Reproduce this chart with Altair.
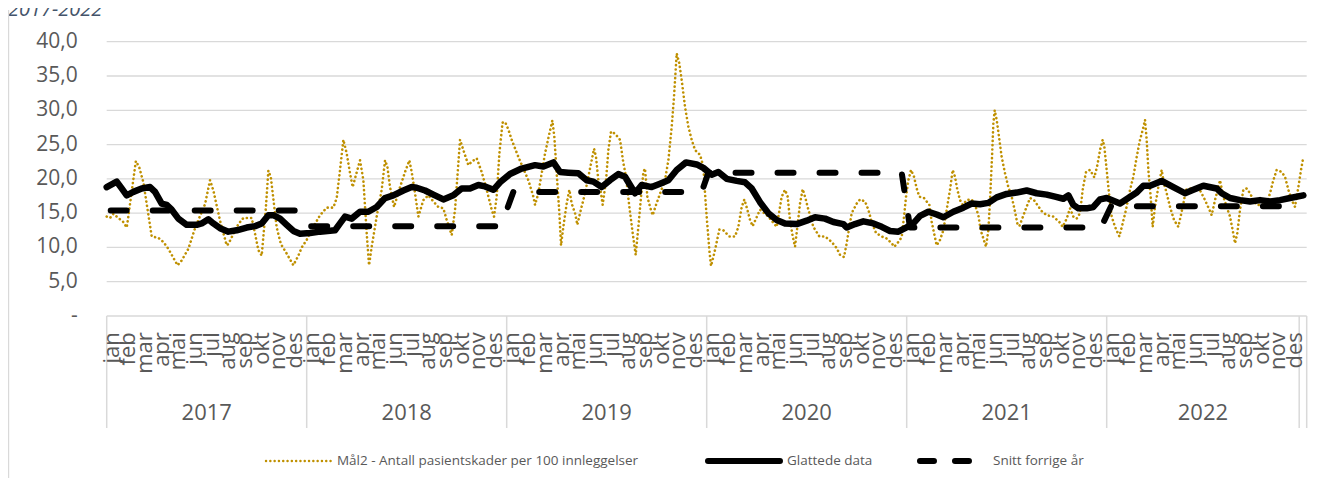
import altair as alt
import pandas as pd

# time axis: months since jan 2017 (fractional), values per 100 admissions
raw_t = [0.0, 0.2, 0.4, 1.0, 1.2, 1.28, 1.75, 1.95, 2.2, 2.7, 3.1, 3.4, 3.7, 4.25, 4.5, 4.9, 5.3, 5.6, 5.9,
         6.2, 6.4, 6.8, 7.2, 7.3, 7.9, 8.2, 8.7, 8.9, 9.1, 9.3, 9.55, 9.7, 9.85, 10.2, 10.45, 10.8, 11.2,
         11.5, 11.7, 12.0,
         12.4, 12.8, 13.2, 13.6, 13.8, 14.0, 14.2, 14.4, 14.6, 14.76, 14.96, 15.2, 15.4, 15.6, 15.74, 15.9,
         16.2, 16.5, 16.7, 16.84, 17.0, 17.24, 17.6, 17.9, 18.16, 18.3, 18.5, 18.7, 19.0, 19.3, 19.6, 19.9,
         20.2, 20.4, 20.7, 20.9, 21.04, 21.2, 21.4, 21.7, 21.9, 22.2, 22.5, 22.8, 23.1, 23.24, 23.4, 23.56,
         23.75, 23.9,
         24.1, 24.3, 24.7, 25.0, 25.3, 25.6, 25.7, 25.9, 26.1, 26.3, 26.56, 26.74, 26.86, 27.0, 27.16, 27.26,
         27.4, 27.6, 27.76, 27.9, 28.1, 28.24, 28.4, 28.7, 29.0, 29.24, 29.36, 29.5, 29.66, 29.76, 29.96,
         30.1, 30.26, 30.5, 30.8, 31.0, 31.16, 31.36, 31.56, 31.74, 31.9, 32.06, 32.2, 32.3, 32.44, 32.6,
         32.76, 32.96, 33.24, 33.5, 33.7, 33.9, 34.04, 34.2, 34.36, 34.5, 34.7, 34.9, 35.1, 35.3, 35.6,
         35.8, 35.9,
         36.0, 36.16, 36.26, 36.4, 36.56, 36.76, 37.0, 37.36, 37.7, 37.9, 38.1, 38.26, 38.44, 38.6, 38.76,
         38.96, 39.2, 39.7, 40.2, 40.5, 40.7, 40.86, 41.0, 41.16, 41.3, 41.44, 41.6, 41.76, 41.9, 42.1,
         42.4, 42.76, 43.1, 43.5, 43.8, 44.0, 44.24, 44.4, 44.56, 44.7, 45.0, 45.2, 45.5, 45.7, 45.9,
         46.16, 46.5, 46.8, 47.1, 47.26, 47.5, 47.7, 47.84, 47.96,
         48.1, 48.26, 48.44, 48.6, 48.76, 49.04, 49.36, 49.5, 49.64, 49.8, 50.0, 50.2, 50.4, 50.6, 50.76,
         50.9, 51.04, 51.2, 51.36, 51.6, 51.9, 52.1, 52.3, 52.44, 52.6, 52.76, 52.9, 53.0, 53.12, 53.2,
         53.28, 53.4, 53.54, 53.7, 53.9, 54.1, 54.3, 54.5, 54.64, 54.76, 54.9, 55.16, 55.4, 55.64, 55.84,
         56.1, 56.4, 56.8, 57.16, 57.36, 57.6, 57.8, 58.0, 58.2, 58.4, 58.56, 58.76, 59.0, 59.26, 59.44,
         59.6, 59.76, 59.86,
         60.0, 60.16, 60.3, 60.5, 60.76, 60.96, 61.16, 61.4, 61.6, 61.8, 62.0, 62.16, 62.3, 62.4, 62.5,
         62.64, 62.76, 62.9, 63.1, 63.3, 63.44, 63.6, 63.8, 64.04, 64.3, 64.56, 64.76, 65.0, 65.2, 65.5,
         65.9, 66.16, 66.3, 66.5, 66.8, 67.0, 67.2, 67.4, 67.56, 67.7, 67.84, 68.0, 68.2, 68.4, 68.6, 68.8,
         69.0, 69.3, 69.6, 69.8, 70.0, 70.2, 70.5, 70.7, 70.9, 71.1, 71.3, 71.5, 71.66, 71.8]
raw_v = [14.5, 14.3, 14.9, 13.7, 12.9, 14.2, 22.6, 21.7, 19.5, 11.6, 11.4, 10.8, 9.8, 7.4, 8.1, 9.8, 12.8, 14.6, 16.3,
         19.8, 18.3, 13.9, 10.3, 10.5, 13.4, 14.3, 14.3, 12.0, 9.6, 8.8, 15.8, 21.2, 20.2, 12.9, 10.5, 9.1, 7.4,
         8.8, 10.0, 11.1,
         13.0, 14.7, 15.8, 15.8, 17.2, 21.3, 25.7, 23.7, 20.8, 18.8, 20.6, 22.7, 19.8, 12.1, 7.4, 10.1,
         14.5, 18.4, 22.7, 21.8, 18.8, 15.9, 18.8, 21.0, 22.7, 21.0, 17.9, 14.5, 16.9, 17.6, 16.7, 15.9,
         15.7, 14.0, 11.8, 15.5, 20.3, 25.7, 24.2, 22.0, 22.5, 23.0, 21.0, 18.4, 15.5, 14.5, 17.4, 23.7,
         28.2, 28.3,
         27.2, 25.7, 23.2, 21.5, 19.8, 17.4, 16.2, 17.9, 20.8, 23.7, 26.6, 28.5, 26.1, 20.8, 15.0, 10.3,
         13.0, 16.4, 18.4, 16.4, 15.0, 13.3, 15.0, 17.9, 21.5, 24.4, 23.2, 19.8, 17.9, 16.2, 19.8,
         24.2, 26.9, 26.6, 25.7, 22.3, 20.3, 15.9, 12.1, 8.9, 13.0, 17.4, 21.0, 21.5, 17.4, 15.9,
         14.7, 16.2, 18.1, 19.8, 22.7, 27.6, 32.0, 38.3, 36.8, 34.4, 30.5, 27.6, 25.7, 24.2, 23.5,
         21.8, 17.9,
         14.5, 9.6, 7.3, 8.6, 10.3, 12.6, 12.5, 11.6, 11.6, 13.0, 15.9, 17.0, 15.5, 14.0, 13.1,
         14.2, 15.5, 14.5, 13.0, 17.4, 18.4, 17.4, 14.0, 11.6, 10.1, 13.0, 16.4, 18.5, 17.4, 15.5,
         13.0, 11.6, 11.6, 10.8, 9.9, 8.9, 8.6, 10.6, 13.0, 15.0, 16.4, 17.0, 16.7, 15.5, 13.7,
         12.1, 11.6, 11.3, 10.6, 10.1, 10.8, 11.5, 14.5, 17.4,
         19.8, 21.3, 20.3, 18.6, 17.4, 17.2, 16.2, 13.7, 12.1, 10.3, 11.1, 12.5, 15.5, 18.4, 21.3,
         20.3, 18.4, 16.9, 16.2, 16.9, 17.0, 16.2, 14.7, 12.5, 11.3, 10.1, 12.5, 16.9, 23.2, 28.1,
         30.0, 28.6, 26.1, 23.2, 20.8, 18.8, 17.4, 15.2, 13.5, 13.1, 14.0, 15.7, 17.2, 16.9, 16.2,
         15.3, 14.7, 14.5, 13.7, 13.0, 14.2, 15.7, 14.5, 14.2, 15.0, 18.4, 21.0, 21.3, 20.2, 22.0,
         24.2, 25.7, 24.7,
         21.3, 17.4, 14.5, 13.0, 11.6, 13.5, 15.5, 18.4, 20.3, 23.2, 25.7, 27.1, 28.6, 25.7, 21.3,
         17.4, 13.0, 15.9, 18.8, 21.3, 19.3, 17.9, 15.9, 14.0, 13.0, 15.9, 18.4, 18.6, 18.6, 18.8,
         16.9, 15.5, 14.7, 16.9, 19.8, 17.4, 15.9, 14.5, 12.5, 10.6, 12.1, 15.5, 18.4, 18.6, 17.9, 16.9,
         16.2, 16.2, 16.4, 17.9, 19.8, 21.3, 21.0, 20.3, 18.4, 16.9, 15.9, 18.8, 21.3, 23.2]

smooth_t = [0.0, 0.3, 0.6, 0.9, 1.2, 1.6, 2.1, 2.6, 2.9, 3.3, 3.6, 3.9, 4.3, 4.8, 5.4, 5.7, 6.1, 6.4, 6.8,
            7.3, 7.8, 8.4, 8.9, 9.3, 9.7, 10.0, 10.4, 10.8, 11.2, 11.6,
            12.2, 12.8, 13.7, 14.0, 14.3, 14.7, 15.2, 15.7, 16.2, 16.7, 17.2, 17.8, 18.3, 18.6, 19.1, 19.6,
            20.2, 20.8, 21.3, 21.8, 22.3, 22.7, 23.2, 23.6,
            24.2, 24.9, 25.7, 26.2, 26.8, 27.2, 27.7, 28.3, 28.8, 29.2, 29.7, 30.2, 30.7, 31.1, 31.4, 31.7,
            32.1, 32.7, 33.2, 33.7, 34.2, 34.76, 35.4, 35.8,
            36.3, 36.7, 37.2, 37.8, 38.3, 38.7, 39.2, 39.7, 40.2, 40.7, 41.4, 42.0, 42.5, 43.1, 43.6, 44.2,
            44.4, 44.9, 45.4, 46.0, 46.5, 47.0, 47.5, 47.9,
            48.4, 48.8, 49.3, 49.8, 50.2, 50.8, 51.4, 51.9, 52.4, 52.9, 53.4, 54.0, 54.6, 55.2, 55.8, 56.4,
            56.9, 57.4, 57.7, 58.0, 58.3, 58.8, 59.2, 59.6,
            60.0, 60.8, 61.3, 61.8, 62.2, 62.6, 63.3, 64.0, 64.7, 65.2, 65.8, 66.6, 66.9, 67.4, 68.0, 68.6,
            69.2, 69.8, 70.4, 71.0, 71.8]
smooth_v = [18.8, 19.2, 19.6, 18.6, 17.6, 18.1, 18.6, 18.8, 18.1, 16.4, 16.2, 15.5, 14.2, 13.3, 13.3, 13.5, 14.1, 13.5, 12.8,
            12.3, 12.5, 12.9, 13.1, 13.5, 14.7, 14.7, 14.2, 13.3, 12.4, 12.0,
            12.1, 12.3, 12.5, 13.5, 14.5, 14.2, 15.2, 15.2, 15.9, 17.2, 17.6, 18.3, 18.8, 18.7, 18.3, 17.7,
            17.0, 17.6, 18.6, 18.6, 19.1, 18.9, 18.4, 19.5,
            20.7, 21.5, 22.0, 21.8, 22.4, 21.0, 20.9, 20.8, 19.8, 19.6, 18.8, 19.8, 20.7, 20.3, 19.1, 17.9,
            19.1, 18.8, 19.3, 19.8, 21.3, 22.4, 22.1, 21.6,
            20.6, 21.0, 20.0, 19.7, 19.5, 18.6, 16.6, 15.0, 14.0, 13.5, 13.4, 13.9, 14.4, 14.2, 13.7, 13.4,
            12.9, 13.4, 13.8, 13.5, 13.0, 12.4, 12.3, 12.8,
            13.5, 14.6, 15.2, 14.8, 14.4, 15.2, 15.8, 16.4, 16.3, 16.5, 17.3, 17.8, 18.0, 18.3, 17.9, 17.7,
            17.4, 17.1, 17.6, 16.2, 15.7, 15.7, 15.9, 17.0,
            17.2, 16.4, 17.2, 18.0, 19.0, 19.0, 19.7, 18.8, 17.9, 18.4, 19.0, 18.6, 17.9, 17.2, 16.9, 16.7,
            16.9, 16.7, 16.9, 17.2, 17.6]

avg_t = [0.0, 11.75, 12.25, 23.65, 24.4, 35.7, 36.1, 47.7, 48.2, 59.66, 60.26, 71.8]
avg_v = [15.4, 15.4, 13.1, 13.1, 18.1, 18.1, 20.9, 20.9, 12.9, 12.9, 16.0, 16.0]

years = ["2017", "2018", "2019", "2020", "2021", "2022"]
year_start = [0, 12, 24, 36, 48, 60]
year_end = [12, 24, 36, 48, 60, 71.55]
months = ["jan", "feb", "mar", "apr", "mai", "jun", "jul", "aug", "sep", "okt", "nov", "des"]
y_ticks = [0, 5, 10, 15, 20, 25, 30, 35, 40]

legend_labels = ["Mål2 - Antall pasientskader per 100 innleggelser", "Glattede data", "Snitt forrige år"]

GOLD = "#BF9000"
GRID = "#d9d9d9"
TXT = "#595959"
FONT = "Open Sans"

W, H = 1200, 274.3
PL, PT, PR = 98.7, 33.7, 6
PB = 470 - PT - H

xs = alt.Scale(domain=[0, 72], nice=False, zero=False)
ys = alt.Scale(domain=[0, 40], nice=False)

raw_df = pd.DataFrame({"t": raw_t, "v": raw_v})
smooth_df = pd.DataFrame({"t": smooth_t, "v": smooth_v})
avg_df = pd.DataFrame({"t": avg_t, "v": avg_v})


def fmt(v):
    return "-\u00a0\u00a0" if v == 0 else f"{v:.1f}".replace(".", ",")


tick_df = pd.DataFrame({"v": y_ticks, "lab": [fmt(v) for v in y_ticks]})

month_rows = []
for ys0 in year_start:
    for m, name in enumerate(months):
        month_rows.append({"t": ys0 + m + 0.3, "label": name})
month_df = pd.DataFrame(month_rows)

year_df = pd.DataFrame({"year": years, "c": [(a + b) / 2 for a, b in zip(year_start, year_end)]})
sep_df = pd.DataFrame({"t": year_start + [year_end[-1], 72]})
one = pd.DataFrame({"a": [0]})

DOT = [0.1, 4.2]
X = alt.X("t:Q", scale=xs, axis=None)
Y = alt.Y("v:Q", scale=ys, axis=None)

grid = alt.Chart(tick_df).mark_rule(color=GRID, strokeWidth=1.3).encode(
    y=Y, x=alt.value(0), x2=alt.value(W))
ylabels = alt.Chart(tick_df).mark_text(
    align="right", baseline="middle", fontSize=21, font=FONT, color=TXT
).encode(y=Y, x=alt.value(-29), text="lab:N")

dotted = alt.Chart(raw_df).mark_line(
    color=GOLD, strokeWidth=2.6, strokeDash=DOT, strokeCap="round", strokeJoin="round"
).encode(x=X, y=Y)

smooth = alt.Chart(smooth_df).mark_line(
    color="black", strokeWidth=6.5, strokeCap="round", strokeJoin="round"
).encode(x=X, y=Y)

dashed = alt.Chart(avg_df).mark_line(
    color="black", strokeWidth=6, strokeDash=[16, 26], strokeDashOffset=-4,
    strokeCap="round", strokeJoin="round"
).encode(x=X, y=Y)

seps = alt.Chart(sep_df).mark_rule(color=GRID, strokeWidth=1.5).encode(
    x=X, y=alt.value(H), y2=alt.value(386.3))

month_text = alt.Chart(month_df).mark_text(
    angle=270, align="right", baseline="middle", fontSize=22, font=FONT, color=TXT
).encode(x=X, y=alt.value(290.5), text="label:N")

year_text = alt.Chart(year_df).mark_text(
    align="center", baseline="middle", fontSize=22, font=FONT, color=TXT
).encode(x=alt.X("c:Q", scale=xs, axis=None), y=alt.value(371.3), text="year:N")

LY = 419.3
leg_dot = alt.Chart(one).mark_rule(color=GOLD, strokeWidth=2.4, strokeDash=DOT, strokeCap="round").encode(
    x=alt.value(159.3), x2=alt.value(226.3), y=alt.value(LY))
leg_solid = alt.Chart(one).mark_rule(color="black", strokeWidth=6, strokeCap="round").encode(
    x=alt.value(601.3), x2=alt.value(673.3), y=alt.value(LY))
leg_dash = alt.Chart(one).mark_rule(color="black", strokeWidth=6, strokeDash=[14, 21], strokeCap="round").encode(
    x=alt.value(813.3), x2=alt.value(863.3), y=alt.value(LY))


def leg_text(x, s):
    return alt.Chart(one).mark_text(
        align="left", baseline="middle", fontSize=13.5, font=FONT, color=TXT
    ).encode(x=alt.value(x), y=alt.value(LY), text=alt.value(s))


title = alt.Chart(one).mark_text(
    align="left", baseline="alphabetic", fontSize=20, font=FONT, fontStyle="italic", color="#44546A"
).encode(x=alt.value(-PL), y=alt.value(-25.7), text=alt.value("2017-2022"))

border = alt.Chart(one).mark_rule(color=GRID, strokeWidth=1.2).encode(
    x=alt.value(-PL + 0.6), y=alt.value(-31.7), y2=alt.value(H + PB))

chart = alt.layer(
    grid, ylabels, seps, month_text, year_text, dotted, smooth, dashed,
    leg_dot, leg_solid, leg_dash,
    leg_text(230.3, legend_labels[0]), leg_text(680.3, legend_labels[1]), leg_text(886.3, legend_labels[2]),
    title, border,
).properties(
    width=W, height=H,
    autosize=alt.AutoSizeParams(type="none"),
    padding={"left": PL, "top": PT, "right": PR, "bottom": PB},
).configure_view(stroke=None)

chart.save("out.html", embed_options={"renderer": "svg", "actions": False})
